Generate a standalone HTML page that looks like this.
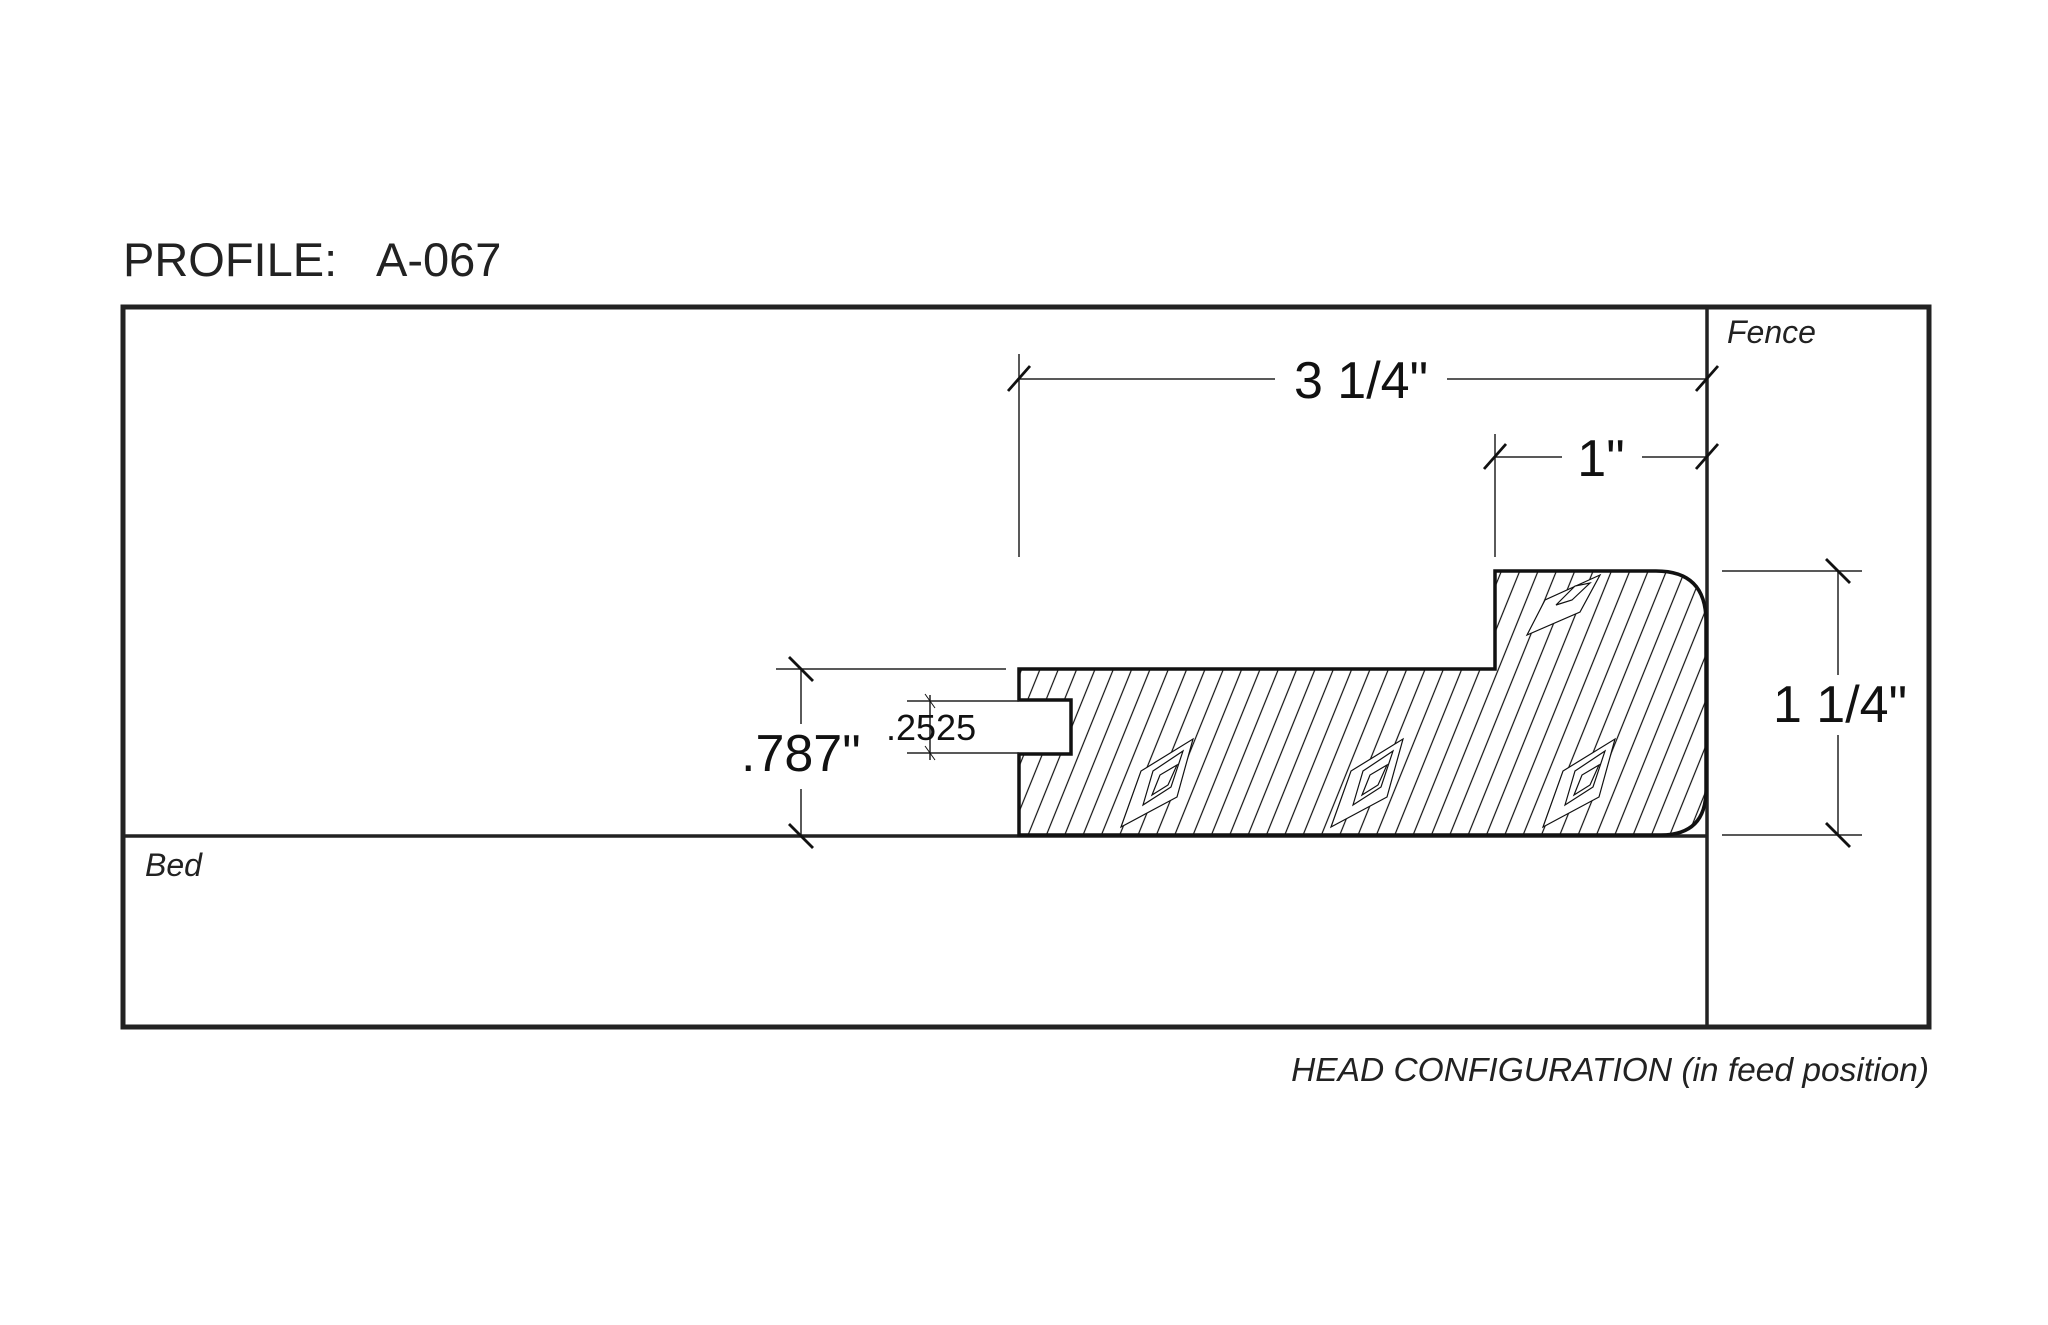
<!DOCTYPE html>
<html><head><meta charset="utf-8"><style>html,body{margin:0;padding:0;background:#fff}svg{display:block}</style></head>
<body>
<svg width="2048" height="1325" viewBox="0 0 2048 1325" xmlns="http://www.w3.org/2000/svg" font-family="Liberation Sans, Arial, sans-serif">
<defs>
<pattern id="g" width="17" height="40" patternUnits="userSpaceOnUse" patternTransform="rotate(22)">
<line x1="8" y1="0" x2="8" y2="40" stroke="#111" stroke-width="1.2"/>
</pattern>
<clipPath id="pc"><path d="M1019,669 L1495,669 L1495,571 L1656,571 Q1706,571 1706,621 L1706,790 Q1706,835 1661,835 L1019,835 L1019,754 L1071,754 L1071,700 L1019,700 Z"/></clipPath>
</defs>
<rect width="2048" height="1325" fill="#fff"/>
<text x="123" y="276" font-size="47" fill="#222">PROFILE:</text>
<text x="376" y="276" font-size="47" fill="#222">A-067</text>
<!-- frame -->
<rect x="123" y="307" width="1806" height="720" fill="none" stroke="#222" stroke-width="5"/>
<line x1="1707" y1="307" x2="1707" y2="1027" stroke="#222" stroke-width="3.5"/>
<line x1="123" y1="836" x2="1707" y2="836" stroke="#222" stroke-width="3.5"/>
<text x="1727" y="343" font-size="32" font-style="italic" fill="#222">Fence</text>
<text x="145" y="876" font-size="32" font-style="italic" fill="#222">Bed</text>
<text x="1929" y="1081" font-size="33.5" font-style="italic" fill="#222" text-anchor="end">HEAD CONFIGURATION (in feed position)</text>
<!-- profile -->
<g clip-path="url(#pc)">
<rect x="1000" y="560" width="720" height="290" fill="url(#g)"/>
<g fill="#fff" stroke="#111" stroke-width="1.2">
<polygon points="1121,827 1141,771 1193,739 1177,797"/>
<polygon points="1143,805 1153,771 1183,751 1171,787"/>
<polygon points="1152,795 1160,775 1177,765 1168,785"/>
<polygon points="1331,827 1351,771 1403,739 1387,797"/>
<polygon points="1353,805 1363,771 1393,751 1381,787"/>
<polygon points="1362,795 1370,775 1387,765 1378,785"/>
<polygon points="1543,827 1563,771 1615,739 1599,797"/>
<polygon points="1565,805 1575,771 1605,751 1593,787"/>
<polygon points="1574,795 1582,775 1599,765 1590,785"/>
<polygon points="1527,635 1545,600 1600,575 1580,612"/>
<polygon points="1556,605 1575,586 1590,583 1572,600"/>
</g>
</g>
<path d="M1019,669 L1495,669 L1495,571 L1656,571 Q1706,571 1706,621 L1706,790 Q1706,835 1661,835 L1019,835 L1019,754 L1071,754 L1071,700 L1019,700 Z" fill="none" stroke="#111" stroke-width="3.5"/>
<g stroke="#222" stroke-width="1.5">
<line x1="1019" y1="354" x2="1019" y2="557"/>
<line x1="1019" y1="379" x2="1275" y2="379"/>
<line x1="1447" y1="379" x2="1707" y2="379"/>
<line x1="1495" y1="434" x2="1495" y2="557"/>
<line x1="1495" y1="457" x2="1562" y2="457"/>
<line x1="1642" y1="457" x2="1707" y2="457"/>
<line x1="1722" y1="571" x2="1862" y2="571"/>
<line x1="1722" y1="835" x2="1862" y2="835"/>
<line x1="1838" y1="571" x2="1838" y2="675"/>
<line x1="1838" y1="735" x2="1838" y2="835"/>
<line x1="776" y1="669" x2="1006" y2="669"/>
<line x1="776" y1="836" x2="1006" y2="836"/>
<line x1="801" y1="669" x2="801" y2="724"/>
<line x1="801" y1="789" x2="801" y2="836"/>
<line x1="907" y1="701" x2="1019" y2="701"/>
<line x1="907" y1="753" x2="1019" y2="753"/>
<line x1="930" y1="695" x2="930" y2="760"/>
</g>
<g stroke="#111" stroke-width="2.8">
<line x1="1008" y1="391" x2="1030" y2="366"/>
<line x1="1696" y1="391" x2="1718" y2="366"/>
<line x1="1484" y1="469" x2="1506" y2="444"/>
<line x1="1696" y1="469" x2="1718" y2="444"/>
<line x1="1826" y1="559" x2="1850" y2="583"/>
<line x1="1826" y1="823" x2="1850" y2="847"/>
<line x1="789" y1="657" x2="813" y2="681"/>
<line x1="789" y1="824" x2="813" y2="848"/>
</g>
<g stroke="#111" stroke-width="1">
<line x1="925" y1="694" x2="935" y2="708"/>
<line x1="925" y1="746" x2="935" y2="760"/>
</g>
<g fill="#111" font-size="52">
<text x="1361" y="398" text-anchor="middle">3 1/4"</text>
<text x="1601" y="476" text-anchor="middle">1"</text>
<text x="1840" y="722" text-anchor="middle">1 1/4"</text>
<text x="741" y="771">.787"</text>
</g>
<text x="886" y="740" font-size="36" fill="#111">.2525</text>
</svg>
</body></html>
